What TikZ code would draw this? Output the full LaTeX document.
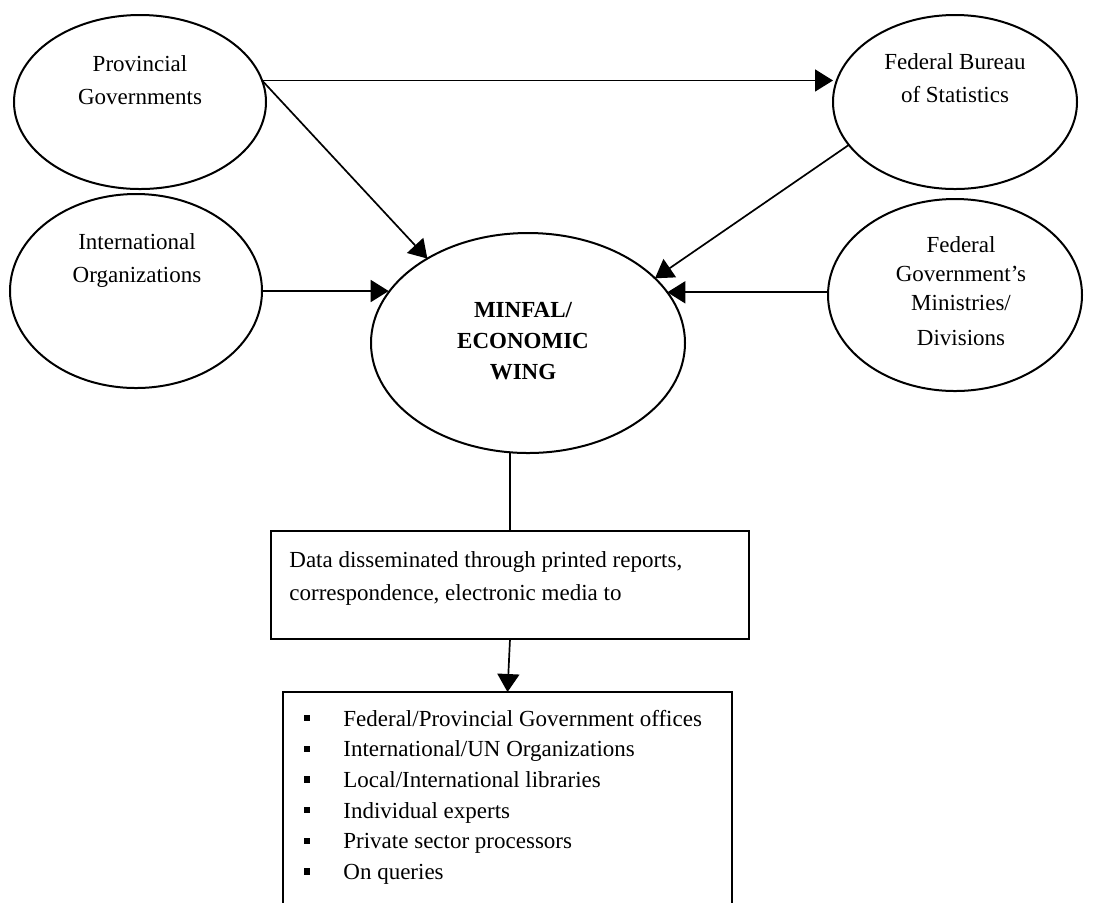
\documentclass[tikz,border=0pt]{standalone}
\usepackage{fontspec}
\setmainfont{Liberation Serif}
\usetikzlibrary{shapes.geometric,arrows.meta}
\begin{document}
\begin{tikzpicture}[x=0.5pt,y=-0.5pt,
  oval/.style={draw, line width=1pt, ellipse, inner sep=0pt, outer sep=0pt},
  txt/.style={align=center, inner sep=0pt, font={\fontsize{11.5pt}{16.5pt}\selectfont}},
  panel/.style={draw, line width=1pt, rectangle, inner sep=0pt, outer sep=0pt},
  arr/.style={line width=0.85pt, -{Triangle[length=9pt,width=11pt]}},
  bullet/.style={fill, rectangle, minimum size=3.2pt, inner sep=0pt}]
  \useasboundingbox (0,0) rectangle (1097,902);
  \node[oval, minimum width=126pt, minimum height=87pt] (prov) at (140,102) {};
  \node[oval, minimum width=122pt, minimum height=87pt] (fbs) at (955,102) {};
  \node[oval, minimum width=126pt, minimum height=97pt] (int) at (136,291) {};
  \node[oval, minimum width=157pt, minimum height=110pt] (mw) at (528,343) {};
  \node[oval, minimum width=127pt, minimum height=96pt] (fgm) at (955,295) {};
  \node[txt] (provT) at (140,80) {Provincial\\Governments};
  \node[txt] (fbsT) at (955,78) {Federal Bureau\\of Statistics};
  \node[txt] (intT) at (137,260) {International\\Organizations};
  \node[txt, font={\fontsize{11.5pt}{15.5pt}\selectfont\bfseries}] (mwT) at (523,341) {MINFAL/\\ECONOMIC\\WING};
  \node[txt, font={\fontsize{11.5pt}{14.5pt}\selectfont}] (fgmT) at (961,291) {Federal\\Government's\\Ministries/\\[3pt]Divisions};
  \node[panel, minimum width=239pt, minimum height=54pt] (dbox) at (510,585) {};
  \node[txt, align=left, anchor=north west] (dtext) at (289,551) {Data disseminated through printed reports,\\correspondence, electronic media to};
  \node[panel, minimum width=224.5pt, minimum height=124pt] (lbox) at (507.5,816) {};
  \foreach \entry [count=\i from 0] in {Federal/Provincial Government offices, International/UN Organizations, Local/International libraries, Individual experts, Private sector processors, On queries} {
    \node[bullet] (sq\i) at (307,{718+30.7*\i}) {};
    \node[txt, anchor=base west] (item\i) at (343,{726+30.7*\i}) {\entry};
  }
  \draw[arr] (prov.10) -- (prov.10 -| fbs.west);
  \draw[arr] (prov.10) -- (mw.140);
  \draw[arr] (int.east) -- (int.east -| mw.160);
  \draw[arr] (fbs.202) -- (mw.27);
  \draw[arr] (fgm.west |- mw.20) -- (mw.20);
  \draw[line width=0.85pt] (dbox.north) -- (dbox.north |- mw.south);
  \draw[arr] (dbox.south) -- (lbox.north);
\end{tikzpicture}
\end{document}
